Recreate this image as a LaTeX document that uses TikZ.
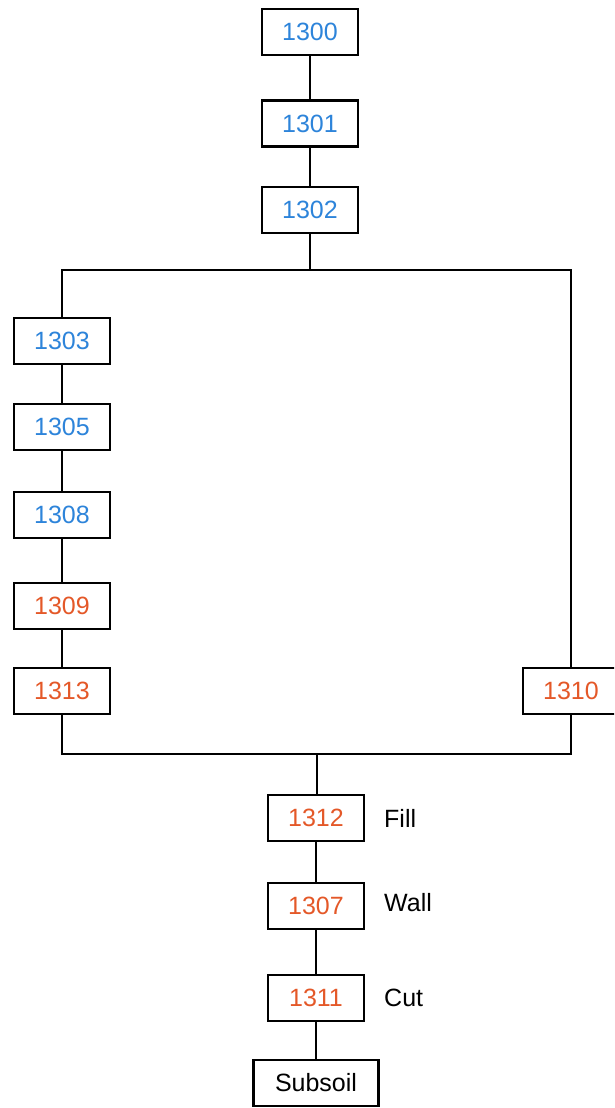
\documentclass[tikz,border=0pt]{standalone}
\usepackage{fontspec}
\setmainfont{Liberation Sans}
\definecolor{hblue}{RGB}{45,132,218}
\definecolor{horange}{RGB}{228,88,40}
\begin{document}
\begin{tikzpicture}[x=1pt,y=-1pt,
  box/.style={draw=black,line width=2.8pt,fill=white,minimum width=96pt,minimum height=46pt,inner sep=0pt,font=\fontsize{25}{30}\selectfont},
  bl/.style={box,text=hblue},
  og/.style={box,text=horange},
  lab/.style={font=\fontsize{25}{30}\selectfont,anchor=west,inner sep=0pt},
  ln/.style={line width=2.8pt}]
\useasboundingbox (0,0) rectangle (614,1108);
\clip (0,0) rectangle (614,1108);
\node[bl] (n1300) at (310,32) {1300};
\node[bl] (n1301) at (310,123.5) {1301};
\node[bl] (n1302) at (310,210) {1302};
\coordinate (tl) at (62,270);
\coordinate (tr) at (571,270);
\coordinate (tm) at (310,270);
\node[bl] (n1303) at (62,341) {1303};
\node[bl] (n1305) at (62,427) {1305};
\node[bl] (n1308) at (62,515) {1308};
\node[og] (n1309) at (62,606) {1309};
\node[og] (n1313) at (62,691) {1313};
\node[og] (n1310) at (571,691) {1310};
\coordinate (bl) at (62,754);
\coordinate (br) at (571,754);
\coordinate (bm) at (317,754);
\node[og] (n1312) at (316,818) {1312};
\node[og] (n1307) at (316,906) {1307};
\node[og] (n1311) at (316,998) {1311};
\node[box,minimum width=125pt] (soil) at (316,1083) {Subsoil};
\node[lab] (fill) at (384,818) {Fill};
\node[lab] (wall) at (384,903) {Wall};
\node[lab] (cut) at (384,998) {Cut};
\begin{scope}[on background layer/.try]
\end{scope}
\draw[ln] (n1300) -- (n1301);
\draw[ln] (n1301) -- (n1302);
\draw[ln] (n1302.south) -- (tm);
\draw[ln] (n1303.north) -- (tl) -- (tr) -- (n1310.north);
\draw[ln] (n1303) -- (n1305);
\draw[ln] (n1305) -- (n1308);
\draw[ln] (n1308) -- (n1309);
\draw[ln] (n1309) -- (n1313);
\draw[ln] (n1313.south) -- (bl) -- (br) -- (n1310.south);
\draw[ln] (bm) -- (n1312.north -| bm);
\draw[ln] (n1312) -- (n1307);
\draw[ln] (n1307) -- (n1311);
\draw[ln] (n1311) -- (soil);
\end{tikzpicture}
\end{document}
